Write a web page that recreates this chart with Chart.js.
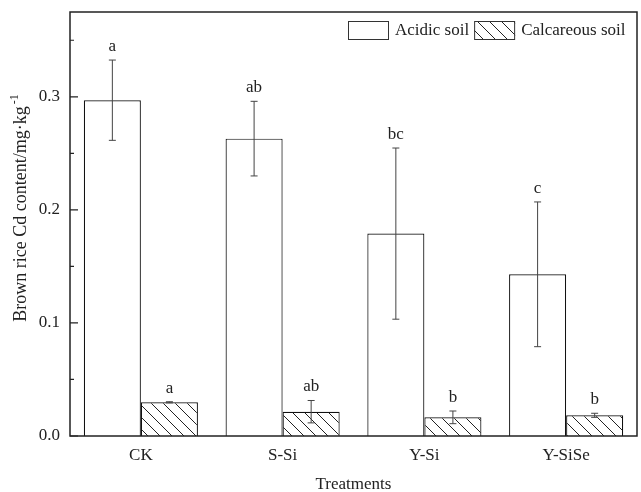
<!DOCTYPE html>
<html><head><meta charset="utf-8">
<script src="https://cdn.jsdelivr.net/npm/chart.js@4"></script>
<style>html,body{margin:0;padding:0;background:#fff}#wrap{width:641px;height:492px}</style>
</head><body><div id="wrap"><canvas id="c" width="641" height="492"></canvas></div>
<script>
const categories = ['CK', 'S-Si', 'Y-Si', 'Y-SiSe'];
const acidic = [0.297, 0.263, 0.179, 0.143];
const acidicErr = [0.0355, 0.033, 0.0757, 0.064];
const calcareous = [0.0298, 0.0215, 0.0165, 0.0183];
const calcareousErr = [0.0005, 0.0099, 0.0056, 0.0018];
const acidicLetters = ['a', 'ab', 'bc', 'c'];
const calcareousLetters = ['a', 'ab', 'b', 'b'];
const seriesNames = ['Acidic soil', 'Calcareous soil'];
const yTicks = [0.0, 0.1, 0.2, 0.3];
const yMinorTicks = [0.05, 0.15, 0.25, 0.35];
const yTitle = 'Brown rice Cd content/mg\u00b7kg';
const yTitleSup = '-1';
const xTitle = 'Treatments';

const FONT = '"Liberation Serif", "Times New Roman", serif';
const INK = '#222';

function hatchPattern() {
  const s = 12;
  const c = document.createElement('canvas');
  c.width = s; c.height = s;
  const g = c.getContext('2d');
  g.fillStyle = '#fff'; g.fillRect(0, 0, s, s);
  g.strokeStyle = '#222'; g.lineWidth = 1;
  g.beginPath();
  g.moveTo(0, 0); g.lineTo(s, s);
  g.moveTo(-s / 2, s / 2); g.lineTo(s / 2, s * 1.5);
  g.moveTo(s / 2, -s / 2); g.lineTo(s * 1.5, s / 2);
  g.stroke();
  return g.createPattern(c, 'repeat');
}
const hatch = hatchPattern();

const errs = [acidicErr, calcareousErr];
const letters = [acidicLetters, calcareousLetters];

const decor = {
  id: 'decor',
  afterDatasetsDraw(chart) {
    const ctx = chart.ctx, ys = chart.scales.y, a = chart.chartArea;
    ctx.save();
    for (let d = 0; d < 2; d++) {
      const meta = chart.getDatasetMeta(d);
      const vals = chart.data.datasets[d].data;
      meta.data.forEach((bar, i) => {
        const x = bar.x;
        const yt = ys.getPixelForValue(vals[i] + errs[d][i]);
        const yb = ys.getPixelForValue(vals[i] - errs[d][i]);
        ctx.strokeStyle = '#444'; ctx.lineWidth = 1;
        ctx.beginPath();
        ctx.moveTo(x, yt); ctx.lineTo(x, yb);
        ctx.moveTo(x - 3.5, yt); ctx.lineTo(x + 3.5, yt);
        ctx.moveTo(x - 3.5, yb); ctx.lineTo(x + 3.5, yb);
        ctx.stroke();
        ctx.fillStyle = INK;
        ctx.font = '17px ' + FONT;
        ctx.textAlign = 'center'; ctx.textBaseline = 'alphabetic';
        ctx.fillText(letters[d][i], x, yt - 9);
      });
    }
    ctx.strokeStyle = INK; ctx.lineWidth = 1.5;
    ctx.strokeRect(a.left, a.top, a.right - a.left, a.bottom - a.top);
    ctx.lineWidth = 1.2;
    ctx.beginPath();
    yTicks.forEach(v => { const y = ys.getPixelForValue(v); ctx.moveTo(a.left, y); ctx.lineTo(a.left + 8, y); });
    yMinorTicks.forEach(v => { const y = ys.getPixelForValue(v); ctx.moveTo(a.left, y); ctx.lineTo(a.left + 4, y); });
    ctx.stroke();
    ctx.font = '17px ' + FONT;
    ctx.textAlign = 'left'; ctx.textBaseline = 'middle';
    let lx = a.right - 289;
    const ly = a.top + 9;
    [ '#fff', hatch ].forEach((fill, k) => {
      ctx.fillStyle = fill;
      ctx.fillRect(lx, ly, 41, 19);
      ctx.strokeStyle = '#333'; ctx.lineWidth = 1;
      ctx.strokeRect(lx + 0.5, ly + 0.5, 40, 18);
      ctx.fillStyle = INK;
      ctx.fillText(seriesNames[k], lx + 47, ly + 10);
      lx += 47 + ctx.measureText(seriesNames[k]).width + 5;
    });
    ctx.fillStyle = INK;
    ctx.textAlign = 'center'; ctx.textBaseline = 'alphabetic';
    ctx.fillText(xTitle, (a.left + a.right) / 2, 489);
    ctx.save();
    ctx.translate(26, 208);
    ctx.rotate(-Math.PI / 2);
    ctx.font = '18px ' + FONT;
    const w1 = ctx.measureText(yTitle).width;
    ctx.font = '12px ' + FONT;
    const w2 = ctx.measureText(yTitleSup).width;
    const start = -(w1 + w2 + 2) / 2;
    ctx.textAlign = 'left';
    ctx.font = '18px ' + FONT;
    ctx.fillText(yTitle, start, 0);
    ctx.font = '12px ' + FONT;
    ctx.fillText(yTitleSup, start + w1 + 2, -8);
    ctx.restore();
    ctx.restore();
  }
};

new Chart(document.getElementById('c'), {
  type: 'bar',
  data: {
    labels: categories,
    datasets: [
      { label: seriesNames[0], data: acidic, backgroundColor: '#fff', borderColor: '#111', borderWidth: 1.2,
        categoryPercentage: 0.805, barPercentage: 1.0 },
      { label: seriesNames[1], data: calcareous, backgroundColor: hatch, borderColor: '#111', borderWidth: 1.2,
        categoryPercentage: 0.805, barPercentage: 1.0 }
    ]
  },
  options: {
    responsive: false,
    animation: false,
    devicePixelRatio: 1,
    layout: { padding: { top: 12, right: 4, left: 0, bottom: 0 } },
    plugins: { legend: { display: false }, tooltip: { enabled: false } },
    scales: {
      x: {
        grid: { display: false, drawTicks: false },
        border: { display: false },
        ticks: { font: { family: FONT, size: 17 }, color: INK, padding: 9 },
        afterFit(s) { s.height = 56; s.paddingLeft = 0; s.paddingRight = 0; }
      },
      y: {
        min: 0, max: 0.375,
        grid: { display: false, drawTicks: false },
        border: { display: false },
        ticks: { font: { family: FONT, size: 17 }, color: INK, padding: 10,
                 callback: v => Number(v).toFixed(1) },
        afterBuildTicks(s) { s.ticks = yTicks.map(v => ({ value: v })); },
        afterFit(s) { s.width = 70; s.paddingTop = 0; s.paddingBottom = 0; }
      }
    }
  },
  plugins: [decor]
});
</script></body></html>
